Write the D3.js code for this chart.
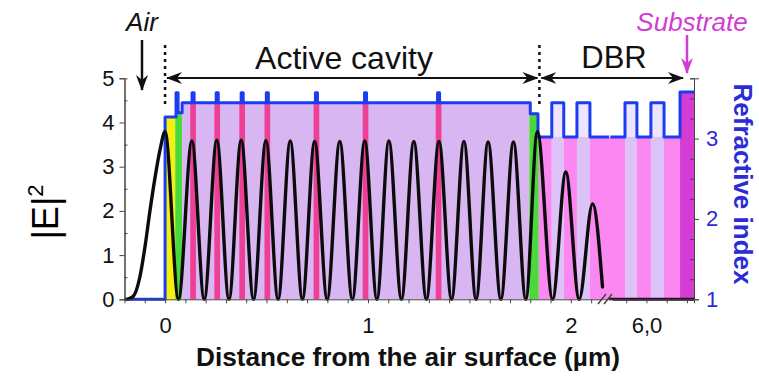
<!DOCTYPE html>
<html>
<head>
<meta charset="utf-8">
<title>|E|2 and refractive index</title>
<style type="text/css">
    body { margin: 0; background: #fff; }
    svg text { font-family: "Liberation Sans", Arial, sans-serif; }
</style>
</head>
<body>
<script src="https://d3js.org/d3.v7.min.js" type="text/javascript"></script>
<script type="text/javascript">

// |E|^2 along the structure (distance in um, value)
var fieldX = [-0.188, -0.158, -0.124, -0.099, -0.074, -0.049, -0.025, 0,
    0.066, 0.132, 0.193, 0.255, 0.315, 0.375, 0.436, 0.497, 0.557, 0.617,
    0.677, 0.737, 0.799, 0.861, 0.923, 0.984, 1.044, 1.103, 1.165, 1.226,
    1.288, 1.350, 1.412, 1.473, 1.533, 1.592, 1.655, 1.717, 1.778, 1.835,
    1.910, 1.975, 2.041, 2.107, 2.156];
var fieldY = [0, 0.06, 0.51, 1.19, 2.02, 2.77, 3.38, 3.79,
    0, 3.58, 0, 3.60, 0, 3.60, 0, 3.59, 0, 3.58,
    0, 3.57, 0, 3.57, 0, 3.58, 0, 3.58, 0, 3.57,
    0, 3.57, 0, 3.57, 0, 3.56, 0, 3.56, 0, 3.79,
    0, 2.88, 0, 2.16, 0.28];
var fieldTailX = [5.815, 6.235];
var fieldTailY = [0, 0];

// refractive index profile, step after (um, n)
var indexX = [-0.2, 0, 0.054, 0.064, 0.084,
    0.133, 0.143, 0.252, 0.262, 0.375, 0.385, 0.499, 0.509,
    0.741, 0.751, 0.983, 0.993, 1.343, 1.353,
    1.800, 1.838, 1.906, 1.965, 2.030, 2.094, 2.188];
var indexN = [1, 3.27, 3.57, 3.32, 3.445,
    3.57, 3.445, 3.57, 3.445, 3.57, 3.445, 3.57, 3.445,
    3.57, 3.445, 3.57, 3.445, 3.57, 3.445,
    3.31, 3.02, 3.445, 3.02, 3.445, 3.02, 3.02];
var indexTailX = [5.822, 5.894, 5.953, 6.022, 6.087, 6.166, 6.235];
var indexTailN = [3.02, 3.445, 3.02, 3.445, 3.02, 3.58, 3.58];

// coloured layers
var layerStart = [0, 0.05, 0.084, 1.795, 1.842, 1.906, 1.965, 2.030, 2.094,
    5.815, 5.894, 5.953, 6.022, 6.087, 6.166];
var layerEnd = [0.05, 0.084, 1.795, 1.842, 1.906, 1.965, 2.030, 2.094, 2.188,
    5.894, 5.953, 6.022, 6.087, 6.166, 6.235];
var layerN = [3.27, 3.32, 3.445, 3.31, 3.02, 3.445, 3.02, 3.445, 3.02,
    3.02, 3.445, 3.02, 3.445, 3.02, 3.58];
var layerKind = ['cap', 'spacer', 'cavity', 'spacer', 'low', 'high', 'low', 'high', 'low',
    'low', 'high', 'low', 'high', 'low', 'substrate'];
var wellCenters = [0.138, 0.257, 0.380, 0.504, 0.746, 0.988, 1.348];

var leftTicks = [0, 1, 2, 3, 4, 5];
var rightTicks = [1, 2, 3];
var xLabelTicks = [0, 1, 2, 6];

var kindColor = {
    cap: '#f6f10c', spacer: '#4ad83a', cavity: '#d8b6f2',
    low: '#fb88f0', high: '#dcc2f6', substrate: '#d43cd4'
};

var W = 759, H = 376;
var svg = d3.select('body').append('svg')
    .attr('width', W).attr('height', H);

// broken axis: 2.188 and 5.815 um meet at the same pixel
var x = d3.scaleLinear()
    .domain([-0.2, 2.188, 5.815, 6.235])
    .range([124.5, 609, 609, 694]);
var yE = d3.scaleLinear().domain([0, 5]).range([299.3, 78.3]);
var yN = d3.scaleLinear().domain([1, 3.75]).range([299.3, 78.3]);

var plot = svg.append('g');

// layers
layerKind.forEach(function (k, i) {
    var top = layerN[i];
    if (k === 'high') {
        plot.append('rect')
            .attr('x', x(layerStart[i])).attr('width', x(layerEnd[i]) - x(layerStart[i]))
            .attr('y', yN(top)).attr('height', yN(3.02) - yN(top))
            .attr('fill', '#ede4fd');
        top = 3.02;
    }
    plot.append('rect')
        .attr('x', x(layerStart[i])).attr('width', x(layerEnd[i]) - x(layerStart[i]))
        .attr('y', yN(top)).attr('height', yN(1) - yN(top))
        .attr('fill', kindColor[k]);
});
wellCenters.forEach(function (c) {
    plot.append('rect')
        .attr('x', x(c - 0.014)).attr('width', x(c + 0.014) - x(c - 0.014))
        .attr('y', yN(3.445)).attr('height', yN(1) - yN(3.445))
        .attr('fill', '#ee3f96');
});

// refractive index
var nLine = d3.line()
    .x(function (d) { return x(d[0]); })
    .y(function (d) { return yN(d[1]); })
    .curve(d3.curveStepAfter);
[[indexX, indexN], [indexTailX, indexTailN]].forEach(function (s) {
    plot.append('path')
        .attr('d', nLine(d3.zip(s[0], s[1])))
        .attr('fill', 'none').attr('stroke', '#1c3cf0')
        .attr('stroke-width', 3).attr('stroke-linejoin', 'round');
});

// |E|^2
var eLine = d3.line()
    .x(function (d) { return x(d[0]); })
    .y(function (d) { return yE(d[1]); })
    .curve(d3.curveMonotoneX);
plot.append('path')
    .attr('d', eLine(d3.zip(fieldX, fieldY)))
    .attr('fill', 'none').attr('stroke', '#0c0c0c').attr('stroke-width', 3.4)
    .attr('stroke-linecap', 'round');
plot.append('path')
    .attr('d', eLine(d3.zip(fieldTailX, fieldTailY)))
    .attr('fill', 'none').attr('stroke', '#2a0a2a').attr('stroke-width', 3);

// axes
var axisColor = '#444';
var leftAxis = svg.append('g').attr('transform', 'translate(124.5,0)')
    .call(d3.axisLeft(yE).tickValues(leftTicks).tickSize(5).tickFormat(d3.format('d')));
svg.append('g').attr('transform', 'translate(124.5,0)')
    .call(d3.axisRight(yE).tickValues(d3.range(0.5, 5, 1)).tickSize(3).tickFormat(''));

var rightAxis = svg.append('g').attr('transform', 'translate(694,0)')
    .call(d3.axisRight(yN).tickValues(rightTicks).tickSize(5).tickFormat(d3.format('d')));
svg.append('g').attr('transform', 'translate(694,0)')
    .call(d3.axisLeft(yN).tickValues([1.25, 1.5, 1.75, 2.25, 2.5, 2.75, 3.25, 3.5, 3.75]).tickSize(4).tickFormat(''));

var minorX = d3.range(-1, 22).map(function (i) { return i / 10; })
    .concat([5.9, 6.0, 6.1, 6.2]);
svg.append('g').attr('transform', 'translate(0,299.3)')
    .call(d3.axisBottom(x).tickValues(minorX).tickSize(4).tickFormat(''));
svg.append('g').attr('transform', 'translate(0,299.3)')
    .call(d3.axisBottom(x).tickValues(xLabelTicks).tickSize(0).tickPadding(18)
        .tickFormat(function (d) { return d === 6 ? '6,0' : d; }))
    .select('.domain').remove();

svg.selectAll('.domain').attr('stroke', axisColor);
svg.selectAll('.tick line').attr('stroke', axisColor);
svg.selectAll('.tick text').attr('font-size', 22).attr('fill', '#111')
    .attr('font-family', '"Liberation Sans", Arial, sans-serif');
rightAxis.selectAll('.tick text').attr('fill', '#2b2bd9').attr('dx', 4);
leftAxis.selectAll('.tick text').attr('dx', -2);

// axis break
svg.append('rect').attr('x', 601).attr('y', 300.5).attr('width', 12).attr('height', 7).attr('fill', '#fff');
[598, 604].forEach(function (bx) {
    svg.append('line')
        .attr('x1', bx).attr('y1', 304).attr('x2', bx + 8).attr('y2', 294)
        .attr('stroke', '#444').attr('stroke-width', 1.5);
});

// axis titles
svg.append('text')
    .attr('transform', 'translate(58,212) rotate(-90)')
    .attr('text-anchor', 'middle').attr('font-size', 36)
    .text('|E|')
    .append('tspan').attr('font-size', 22).attr('dy', -15).text('2');
svg.append('text')
    .attr('transform', 'translate(734,184) rotate(90)')
    .attr('text-anchor', 'middle').attr('font-size', 26).attr('font-weight', 'bold')
    .attr('fill', '#2b2bd9')
    .text('Refractive index');
var xTitle = svg.append('text')
    .attr('x', 408).attr('y', 366)
    .attr('text-anchor', 'middle').attr('font-size', 24).attr('font-weight', 'bold')
    .attr('font-family', 'Lato, "Open Sans", sans-serif').attr('fill', '#111')
    .text('Distance from the air surface (\u00b5m)');
// fit the title to the width it has in the figure
var tw = xTitle.node().getComputedTextLength();
xTitle.attr('font-size', 24 * 424 / tw);

// annotations
var defs = svg.append('defs');
function head(id, color) {
    defs.append('marker').attr('id', id)
        .attr('viewBox', '0 0 16 12').attr('refX', 15).attr('refY', 6)
        .attr('markerWidth', 16).attr('markerHeight', 12)
        .attr('markerUnits', 'userSpaceOnUse').attr('orient', 'auto-start-reverse')
        .append('path').attr('d', 'M0,0 L16,6 L0,12 L5,6 Z').attr('fill', color);
}
head('hk', '#111');
head('hm', '#d23cd2');

svg.append('text').attr('x', 142).attr('y', 31).attr('text-anchor', 'middle')
    .attr('font-size', 26).attr('font-style', 'italic').attr('fill', '#111').text('Air');
svg.append('line').attr('x1', 142).attr('y1', 40).attr('x2', 142).attr('y2', 90)
    .attr('stroke', '#111').attr('stroke-width', 2.5).attr('marker-end', 'url(#hk)');

[0, 1.845].forEach(function (d) {
    svg.append('line').attr('x1', x(d)).attr('x2', x(d)).attr('y1', 45).attr('y2', 106)
        .attr('stroke', '#111').attr('stroke-width', 2.5).attr('stroke-dasharray', '3,4');
});
svg.append('line').attr('x1', x(0) + 2).attr('x2', x(1.845) - 2).attr('y1', 78).attr('y2', 78)
    .attr('stroke', '#111').attr('stroke-width', 2)
    .attr('marker-start', 'url(#hk)').attr('marker-end', 'url(#hk)');
svg.append('text').attr('x', 344).attr('y', 69).attr('text-anchor', 'middle')
    .attr('font-size', 32).attr('fill', '#111').text('Active cavity');

svg.append('line').attr('x1', x(1.845) + 2).attr('x2', 683).attr('y1', 78).attr('y2', 78)
    .attr('stroke', '#111').attr('stroke-width', 2)
    .attr('marker-start', 'url(#hk)').attr('marker-end', 'url(#hk)');
svg.append('text').attr('x', 614).attr('y', 68).attr('text-anchor', 'middle')
    .attr('font-size', 31).attr('fill', '#111').text('DBR');

svg.append('text').attr('x', 692).attr('y', 31).attr('text-anchor', 'middle')
    .attr('font-size', 26).attr('font-style', 'italic').attr('fill', '#d23cd2').text('Substrate');
svg.append('line').attr('x1', 687).attr('y1', 35).attr('x2', 687).attr('y2', 73)
    .attr('stroke', '#d23cd2').attr('stroke-width', 2.5).attr('marker-end', 'url(#hm)');

</script>
</body>
</html>
